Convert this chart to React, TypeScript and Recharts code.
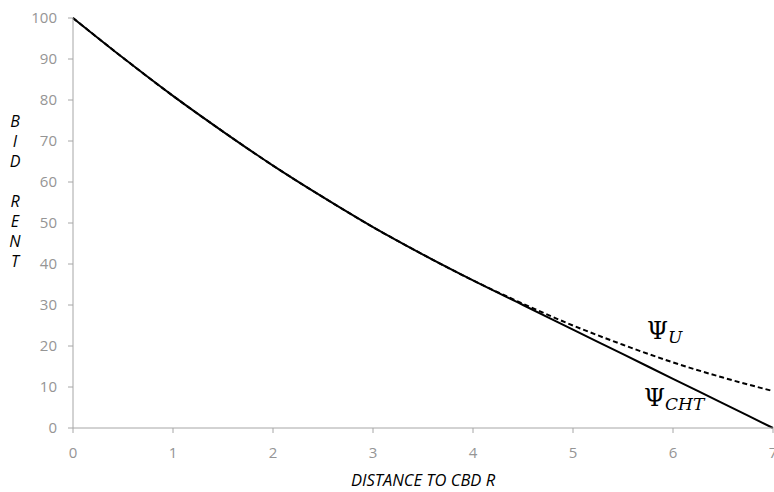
import { LineChart, Line, XAxis, YAxis, ReferenceDot } from 'recharts';

// distance to CBD
const distance = [0, 0.5, 1, 1.5, 2, 2.5, 3, 3.5, 4, 4.5, 5, 5.5, 6, 6.5, 7];
// bid rent, utility curve (dashed)
const psiU = [100, 90.3, 81, 72.3, 64, 56.3, 49, 42.3, 36, 30.3, 25, 20.3, 16, 12.3, 9];
// bid rent, CHT curve (solid) - follows psiU, then straight down to 0 at 7
const psiCHT = [100, 90.3, 81, 72.3, 64, 56.3, 49, 42.3, 36, 30, 24, 18, 12, 6, 0];

const xTicks = [0, 1, 2, 3, 4, 5, 6, 7];
const yTicks = [0, 10, 20, 30, 40, 50, 60, 70, 80, 90, 100];
const yTitle = ['B', 'I', 'D', '', 'R', 'E', 'N', 'T'];

const data = distance.map((d, i) => ({ d, u: psiU[i], cht: psiCHT[i] }));

const AXIS = '#a6a6a6';
const TICK_TEXT = '#959595';

function YTitle(props: any) {
  const vb = props.viewBox || { x: 0, y: 18 };
  return (
    <text
      x={15}
      y={vb.y + 109}
      textAnchor="middle"
      fontSize={16}
      fontStyle="italic"
      fill="#000"
    >
      {yTitle.map((ch, i) => (
        <tspan key={i} x={15} dy={i === 0 ? 0 : 20}>
          {ch || '\u00a0'}
        </tspan>
      ))}
    </text>
  );
}

function XTitle(props: any) {
  const vb = props.viewBox || { x: 73, y: 428, width: 700 };
  return (
    <text
      x={vb.x + vb.width / 2}
      y={vb.y + 58}
      textAnchor="middle"
      fontSize={16.5}
      fontStyle="italic"
      fill="#000"
    >
      DISTANCE TO CBD R
    </text>
  );
}

function PsiLabel({ cx, cy, sub }: any) {
  return (
    <text x={cx} y={cy} fontFamily="'DejaVu Serif', 'Liberation Serif', serif" fill="#000">
      <tspan fontSize={24}>Ψ</tspan>
      <tspan fontSize={17} fontStyle="italic" dy={4}>
        {sub}
      </tspan>
    </text>
  );
}

export default function App() {
  return (
    <div
      style={{
        position: 'absolute',
        left: 0,
        top: 0,
        width: 774,
        height: 492,
        overflow: 'hidden',
        background: '#fff',
        fontFamily: "'Open Sans', 'Noto Sans', sans-serif",
      }}
    >
      <LineChart
        width={774}
        height={492}
        data={data}
        margin={{ top: 18, right: 1, bottom: 0, left: 0 }}
      >
        <XAxis
          dataKey="d"
          type="number"
          domain={[0, 7]}
          ticks={xTicks}
          interval={0}
          height={64}
          stroke={AXIS}
          tickSize={5}
          tickMargin={14}
          tick={{ fill: TICK_TEXT, fontSize: 15 }}
          label={<XTitle />}
        />
        <YAxis
          type="number"
          domain={[0, 100]}
          ticks={yTicks}
          interval={0}
          width={73}
          stroke={AXIS}
          tickSize={5}
          tickMargin={11}
          tick={{ fill: TICK_TEXT, fontSize: 15 }}
          label={<YTitle />}
        />
        <Line
          type="monotone"
          dataKey="u"
          stroke="#000"
          strokeWidth={2}
          strokeDasharray="5 3"
          dot={false}
          isAnimationActive={false}
        />
        <Line
          type="monotone"
          dataKey="cht"
          stroke="#000"
          strokeWidth={2}
          dot={false}
          isAnimationActive={false}
        />
        <ReferenceDot
          x={5.74}
          y={21.6}
          r={0}
          shape={(p: any) => <PsiLabel {...p} sub="U" />}
        />
        <ReferenceDot
          x={5.71}
          y={5.3}
          r={0}
          shape={(p: any) => <PsiLabel {...p} sub="CHT" />}
        />
      </LineChart>
    </div>
  );
}
